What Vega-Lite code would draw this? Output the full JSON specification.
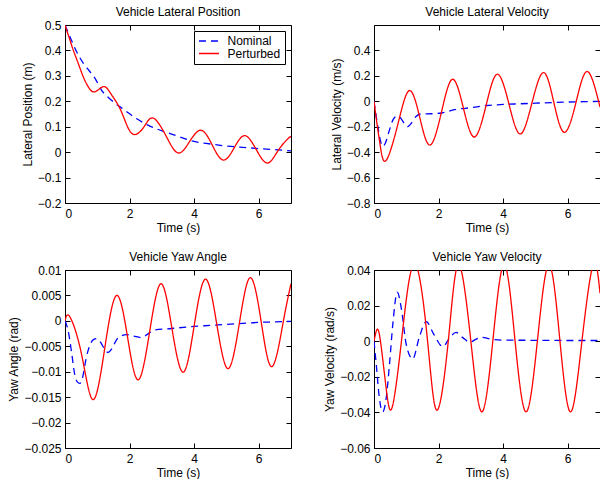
{
  "$schema": "https://vega.github.io/schema/vega-lite/v6.json",
  "padding": {"left": 7, "top": 5, "right": 0, "bottom": 0},
  "background": "white",
  "datasets": {
    "p1n": [
      {"t": 0, "v": 0.5, "s": "Nominal"}, {"t": 0.15, "v": 0.455, "s": "Nominal"}, {"t": 0.36, "v": 0.395, "s": "Nominal"},
      {"t": 0.57, "v": 0.349, "s": "Nominal"}, {"t": 0.75, "v": 0.32, "s": "Nominal"}, {"t": 0.93, "v": 0.29, "s": "Nominal"},
      {"t": 1.13, "v": 0.244, "s": "Nominal"}, {"t": 1.44, "v": 0.204, "s": "Nominal"}, {"t": 1.85, "v": 0.165, "s": "Nominal"},
      {"t": 2.21, "v": 0.132, "s": "Nominal"}, {"t": 2.57, "v": 0.106, "s": "Nominal"}, {"t": 3.09, "v": 0.08, "s": "Nominal"},
      {"t": 3.4, "v": 0.067, "s": "Nominal"}, {"t": 4, "v": 0.042, "s": "Nominal"}, {"t": 4.5, "v": 0.032, "s": "Nominal"},
      {"t": 5, "v": 0.024, "s": "Nominal"}, {"t": 5.5, "v": 0.019, "s": "Nominal"}, {"t": 6, "v": 0.014, "s": "Nominal"},
      {"t": 6.5, "v": 0.01, "s": "Nominal"}, {"t": 7, "v": 0.005, "s": "Nominal"}
    ],
    "p1p": [
      {"t": 0, "v": 0.5, "s": "Perturbed"}, {"t": 0.05, "v": 0.48, "s": "Perturbed"}, {"t": 0.155, "v": 0.44, "s": "Perturbed"},
      {"t": 0.257, "v": 0.401, "s": "Perturbed"}, {"t": 0.41, "v": 0.349, "s": "Perturbed"}, {"t": 0.566, "v": 0.296, "s": "Perturbed"},
      {"t": 0.72, "v": 0.257, "s": "Perturbed"}, {"t": 0.875, "v": 0.237, "s": "Perturbed"}, {"t": 1.05, "v": 0.247, "s": "Perturbed"},
      {"t": 1.24, "v": 0.257, "s": "Perturbed"}, {"t": 1.44, "v": 0.226, "s": "Perturbed"}, {"t": 1.7, "v": 0.172, "s": "Perturbed"},
      {"t": 1.93, "v": 0.102, "s": "Perturbed"}, {"t": 2.16, "v": 0.069, "s": "Perturbed"}, {"t": 2.45, "v": 0.1, "s": "Perturbed"},
      {"t": 2.73, "v": 0.134, "s": "Perturbed"}, {"t": 3.12, "v": 0.066, "s": "Perturbed"}, {"t": 3.5, "v": -0.003, "s": "Perturbed"},
      {"t": 3.86, "v": 0.042, "s": "Perturbed"}, {"t": 4.22, "v": 0.086, "s": "Perturbed"}, {"t": 4.56, "v": 0.028, "s": "Perturbed"},
      {"t": 4.9, "v": -0.031, "s": "Perturbed"}, {"t": 5.24, "v": 0.017, "s": "Perturbed"}, {"t": 5.57, "v": 0.065, "s": "Perturbed"},
      {"t": 5.92, "v": 0.011, "s": "Perturbed"}, {"t": 6.27, "v": -0.043, "s": "Perturbed"}, {"t": 6.61, "v": 0.008, "s": "Perturbed"},
      {"t": 6.95, "v": 0.058, "s": "Perturbed"}, {"t": 7, "v": 0.057, "s": "Perturbed"}
    ],
    "p2n": [
      {"t": 0, "v": 0, "s": "Nominal"}, {"t": 0.1, "v": -0.17, "s": "Nominal"}, {"t": 0.2, "v": -0.31, "s": "Nominal"},
      {"t": 0.27, "v": -0.355, "s": "Nominal"}, {"t": 0.35, "v": -0.33, "s": "Nominal"}, {"t": 0.45, "v": -0.25, "s": "Nominal"},
      {"t": 0.6, "v": -0.14, "s": "Nominal"}, {"t": 0.72, "v": -0.115, "s": "Nominal"}, {"t": 0.85, "v": -0.14, "s": "Nominal"},
      {"t": 0.95, "v": -0.18, "s": "Nominal"}, {"t": 1.04, "v": -0.2, "s": "Nominal"}, {"t": 1.15, "v": -0.175, "s": "Nominal"},
      {"t": 1.3, "v": -0.12, "s": "Nominal"}, {"t": 1.45, "v": -0.1, "s": "Nominal"}, {"t": 1.8, "v": -0.098, "s": "Nominal"},
      {"t": 2.1, "v": -0.092, "s": "Nominal"}, {"t": 2.5, "v": -0.066, "s": "Nominal"}, {"t": 3, "v": -0.05, "s": "Nominal"},
      {"t": 3.5, "v": -0.033, "s": "Nominal"}, {"t": 4, "v": -0.025, "s": "Nominal"}, {"t": 4.5, "v": -0.02, "s": "Nominal"},
      {"t": 5, "v": -0.015, "s": "Nominal"}, {"t": 5.5, "v": -0.01, "s": "Nominal"}, {"t": 6, "v": -0.006, "s": "Nominal"},
      {"t": 6.5, "v": -0.003, "s": "Nominal"}, {"t": 7, "v": -0.001, "s": "Nominal"}
    ],
    "p2p": [
      {"t": 0, "v": 0, "s": "Perturbed"}, {"t": 0.1, "v": -0.19, "s": "Perturbed"}, {"t": 0.2, "v": -0.36, "s": "Perturbed"},
      {"t": 0.37, "v": -0.467, "s": "Perturbed"}, {"t": 0.73, "v": -0.19, "s": "Perturbed"}, {"t": 1.09, "v": 0.084, "s": "Perturbed"},
      {"t": 1.42, "v": -0.13, "s": "Perturbed"}, {"t": 1.74, "v": -0.344, "s": "Perturbed"}, {"t": 2.09, "v": -0.085, "s": "Perturbed"},
      {"t": 2.43, "v": 0.173, "s": "Perturbed"}, {"t": 2.77, "v": -0.054, "s": "Perturbed"}, {"t": 3.11, "v": -0.281, "s": "Perturbed"},
      {"t": 3.47, "v": -0.034, "s": "Perturbed"}, {"t": 3.82, "v": 0.213, "s": "Perturbed"}, {"t": 4.18, "v": -0.022, "s": "Perturbed"},
      {"t": 4.53, "v": -0.257, "s": "Perturbed"}, {"t": 4.89, "v": -0.015, "s": "Perturbed"}, {"t": 5.25, "v": 0.226, "s": "Perturbed"},
      {"t": 5.57, "v": -0.009, "s": "Perturbed"}, {"t": 5.9, "v": -0.244, "s": "Perturbed"}, {"t": 6.26, "v": -0.005, "s": "Perturbed"},
      {"t": 6.61, "v": 0.234, "s": "Perturbed"}, {"t": 7, "v": -0.045, "s": "Perturbed"}
    ],
    "p3n": [
      {"t": 0, "v": 0, "s": "Nominal"}, {"t": 0.1, "v": -0.002, "s": "Nominal"}, {"t": 0.2, "v": -0.006, "s": "Nominal"},
      {"t": 0.3, "v": -0.0105, "s": "Nominal"}, {"t": 0.38, "v": -0.012, "s": "Nominal"}, {"t": 0.46, "v": -0.0123, "s": "Nominal"},
      {"t": 0.55, "v": -0.011, "s": "Nominal"}, {"t": 0.65, "v": -0.0075, "s": "Nominal"}, {"t": 0.77, "v": -0.0048, "s": "Nominal"},
      {"t": 0.88, "v": -0.0037, "s": "Nominal"}, {"t": 0.98, "v": -0.0035, "s": "Nominal"}, {"t": 1.1, "v": -0.0042, "s": "Nominal"},
      {"t": 1.22, "v": -0.0055, "s": "Nominal"}, {"t": 1.34, "v": -0.0062, "s": "Nominal"}, {"t": 1.45, "v": -0.0055, "s": "Nominal"},
      {"t": 1.62, "v": -0.0035, "s": "Nominal"}, {"t": 1.9, "v": -0.0027, "s": "Nominal"}, {"t": 2.13, "v": -0.003, "s": "Nominal"},
      {"t": 2.37, "v": -0.0033, "s": "Nominal"}, {"t": 2.58, "v": -0.0025, "s": "Nominal"}, {"t": 2.78, "v": -0.0018, "s": "Nominal"},
      {"t": 3.3, "v": -0.0015, "s": "Nominal"}, {"t": 4, "v": -0.0011, "s": "Nominal"}, {"t": 4.5, "v": -0.0009, "s": "Nominal"},
      {"t": 5, "v": -0.0007, "s": "Nominal"}, {"t": 5.5, "v": -0.0005, "s": "Nominal"}, {"t": 6, "v": -0.0003, "s": "Nominal"},
      {"t": 6.5, "v": -0.0002, "s": "Nominal"}, {"t": 7, "v": -0.0001, "s": "Nominal"}
    ],
    "p3p": [
      {"t": 0, "v": 0, "s": "Perturbed"}, {"t": 0.15, "v": 0.0008, "s": "Perturbed"}, {"t": 0.51, "v": -0.0065, "s": "Perturbed"},
      {"t": 0.875, "v": -0.0155, "s": "Perturbed"}, {"t": 1.24, "v": -0.005, "s": "Perturbed"}, {"t": 1.6, "v": 0.005, "s": "Perturbed"},
      {"t": 1.94, "v": -0.0033, "s": "Perturbed"}, {"t": 2.27, "v": -0.0116, "s": "Perturbed"}, {"t": 2.62, "v": -0.0022, "s": "Perturbed"},
      {"t": 2.97, "v": 0.0073, "s": "Perturbed"}, {"t": 3.31, "v": -0.0014, "s": "Perturbed"}, {"t": 3.66, "v": -0.0101, "s": "Perturbed"},
      {"t": 4, "v": -0.001, "s": "Perturbed"}, {"t": 4.35, "v": 0.0082, "s": "Perturbed"}, {"t": 4.7, "v": -0.0006, "s": "Perturbed"},
      {"t": 5.05, "v": -0.0094, "s": "Perturbed"}, {"t": 5.4, "v": -0.0005, "s": "Perturbed"}, {"t": 5.74, "v": 0.0085, "s": "Perturbed"},
      {"t": 6.08, "v": -0.0003, "s": "Perturbed"}, {"t": 6.41, "v": -0.009, "s": "Perturbed"}, {"t": 6.76, "v": -0.0002, "s": "Perturbed"},
      {"t": 7, "v": 0.0073, "s": "Perturbed"}
    ],
    "p4n": [
      {"t": 0, "v": 0, "s": "Nominal"}, {"t": 0.08, "v": -0.015, "s": "Nominal"}, {"t": 0.16, "v": -0.031, "s": "Nominal"},
      {"t": 0.27, "v": -0.0397, "s": "Nominal"}, {"t": 0.37, "v": -0.033, "s": "Nominal"}, {"t": 0.48, "v": -0.013, "s": "Nominal"},
      {"t": 0.58, "v": 0.009, "s": "Nominal"}, {"t": 0.72, "v": 0.0275, "s": "Nominal"}, {"t": 0.85, "v": 0.018, "s": "Nominal"},
      {"t": 1, "v": -0.002, "s": "Nominal"}, {"t": 1.2, "v": -0.01, "s": "Nominal"}, {"t": 1.4, "v": 0.002, "s": "Nominal"},
      {"t": 1.62, "v": 0.011, "s": "Nominal"}, {"t": 1.85, "v": 0.004, "s": "Nominal"}, {"t": 2.13, "v": -0.003, "s": "Nominal"},
      {"t": 2.35, "v": 0.002, "s": "Nominal"}, {"t": 2.54, "v": 0.005, "s": "Nominal"}, {"t": 2.75, "v": 0.002, "s": "Nominal"},
      {"t": 2.97, "v": -0.0006, "s": "Nominal"}, {"t": 3.15, "v": 0.001, "s": "Nominal"}, {"t": 3.33, "v": 0.0022, "s": "Nominal"},
      {"t": 3.6, "v": 0.0012, "s": "Nominal"}, {"t": 4, "v": 0.0006, "s": "Nominal"}, {"t": 5, "v": 0.0005, "s": "Nominal"},
      {"t": 6, "v": 0.0004, "s": "Nominal"}, {"t": 7, "v": 0.0004, "s": "Nominal"}
    ],
    "p4p": [
      {"t": 0, "v": 0, "s": "Perturbed"}, {"t": 0.09, "v": 0.0065, "s": "Perturbed"}, {"t": 0.2, "v": 0, "s": "Perturbed"},
      {"t": 0.38, "v": -0.027, "s": "Perturbed"}, {"t": 0.56, "v": -0.0373, "s": "Perturbed"}, {"t": 0.85, "v": 0, "s": "Perturbed"},
      {"t": 1.25, "v": 0.0435, "s": "Perturbed"}, {"t": 1.66, "v": 0, "s": "Perturbed"}, {"t": 1.95, "v": -0.0388, "s": "Perturbed"},
      {"t": 2.3, "v": 0, "s": "Perturbed"}, {"t": 2.62, "v": 0.043, "s": "Perturbed"}, {"t": 3, "v": 0, "s": "Perturbed"},
      {"t": 3.34, "v": -0.0397, "s": "Perturbed"}, {"t": 3.68, "v": 0, "s": "Perturbed"}, {"t": 4.03, "v": 0.043, "s": "Perturbed"},
      {"t": 4.37, "v": 0, "s": "Perturbed"}, {"t": 4.71, "v": -0.0397, "s": "Perturbed"}, {"t": 5.06, "v": 0, "s": "Perturbed"},
      {"t": 5.42, "v": 0.043, "s": "Perturbed"}, {"t": 5.76, "v": 0, "s": "Perturbed"}, {"t": 6.09, "v": -0.0397, "s": "Perturbed"},
      {"t": 6.44, "v": 0, "s": "Perturbed"}, {"t": 6.79, "v": 0.043, "s": "Perturbed"}, {"t": 7, "v": 0.027, "s": "Perturbed"}
    ]
  },
  "columns": 2,
  "spacing": {"row": 67, "column": 83},
  "bounds": "flush",
  "resolve": {"legend": {"color": "independent", "strokeDash": "independent"}},
  "concat": [
    {
      "width": 226, "height": 178,
      "title": {"text": "Vehicle Lateral Position", "offset": 0},
      "layer": [
        {
          "data": {"name": "p1n"},
          "mark": {"type": "line", "interpolate": "monotone", "clip": true, "strokeWidth": 1.3},
          "encoding": {
            "x": {"field": "t", "type": "quantitative", "scale": {"domain": [0, 7], "nice": false, "zero": false}, "axis": {"orient": "bottom", "values": [0, 2, 4, 6], "title": "Time (s)", "format": "~g"}},
            "y": {"field": "v", "type": "quantitative", "scale": {"domain": [-0.2, 0.5], "nice": false, "zero": false}, "axis": {"orient": "left", "values": [-0.2, -0.1, 0, 0.1, 0.2, 0.3, 0.4, 0.5], "title": "Lateral Position (m)", "format": "~g"}},
            "color": {"field": "s", "type": "nominal", "scale": {"domain": ["Nominal", "Perturbed"], "range": ["#0000ff", "#ff0000"]}, "legend": {"title": null}},
            "strokeDash": {"field": "s", "type": "nominal", "scale": {"domain": ["Nominal", "Perturbed"], "range": [[7, 5], [1, 0]]}, "legend": {"title": null}}
          }
        },
        {
          "data": {"name": "p1p"},
          "mark": {"type": "line", "interpolate": "natural", "clip": true, "strokeWidth": 1.3},
          "encoding": {
            "x": {"field": "t", "type": "quantitative", "scale": {"domain": [0, 7], "nice": false, "zero": false}, "axis": null},
            "y": {"field": "v", "type": "quantitative", "scale": {"domain": [-0.2, 0.5], "nice": false, "zero": false}, "axis": null},
            "color": {"field": "s", "type": "nominal", "scale": {"domain": ["Nominal", "Perturbed"], "range": ["#0000ff", "#ff0000"]}, "legend": {"title": null}},
            "strokeDash": {"field": "s", "type": "nominal", "scale": {"domain": ["Nominal", "Perturbed"], "range": [[7, 5], [1, 0]]}, "legend": {"title": null}}
          }
        },
        {
          "data": {"name": "p1n"},
          "mark": {"type": "line", "opacity": 0},
          "encoding": {
            "x": {"field": "t", "type": "quantitative", "scale": {"domain": [0, 7], "nice": false, "zero": false}, "axis": {"orient": "top", "values": [0, 2, 4, 6], "labels": false, "title": null}},
            "y": {"field": "v", "type": "quantitative", "scale": {"domain": [-0.2, 0.5], "nice": false, "zero": false}, "axis": {"orient": "right", "values": [-0.2, -0.1, 0, 0.1, 0.2, 0.3, 0.4, 0.5], "labels": false, "title": null}}
          }
        }
      ],
      "resolve": {"axis": {"x": "independent", "y": "independent"}}
    },
    {
      "width": 226, "height": 178,
      "title": {"text": "Vehicle Lateral Velocity", "offset": 6},
      "layer": [
        {
          "data": {"name": "p2n"},
          "mark": {"type": "line", "interpolate": "monotone", "clip": true, "strokeWidth": 1.3},
          "encoding": {
            "x": {"field": "t", "type": "quantitative", "scale": {"domain": [0, 7], "nice": false, "zero": false}, "axis": {"orient": "bottom", "values": [0, 2, 4, 6], "title": "Time (s)", "format": "~g"}},
            "y": {"field": "v", "type": "quantitative", "scale": {"domain": [-0.8, 0.6], "nice": false, "zero": false}, "axis": {"orient": "left", "values": [-0.8, -0.6, -0.4, -0.2, 0, 0.2, 0.4], "title": "Lateral Velocity (m/s)", "format": "~g"}},
            "color": {"field": "s", "type": "nominal", "scale": {"domain": ["Nominal", "Perturbed"], "range": ["#0000ff", "#ff0000"]}, "legend": null},
            "strokeDash": {"field": "s", "type": "nominal", "scale": {"domain": ["Nominal", "Perturbed"], "range": [[7, 5], [1, 0]]}, "legend": null}
          }
        },
        {
          "data": {"name": "p2p"},
          "mark": {"type": "line", "interpolate": "natural", "clip": true, "strokeWidth": 1.3},
          "encoding": {
            "x": {"field": "t", "type": "quantitative", "scale": {"domain": [0, 7], "nice": false, "zero": false}, "axis": null},
            "y": {"field": "v", "type": "quantitative", "scale": {"domain": [-0.8, 0.6], "nice": false, "zero": false}, "axis": null},
            "color": {"field": "s", "type": "nominal", "scale": {"domain": ["Nominal", "Perturbed"], "range": ["#0000ff", "#ff0000"]}, "legend": null},
            "strokeDash": {"field": "s", "type": "nominal", "scale": {"domain": ["Nominal", "Perturbed"], "range": [[7, 5], [1, 0]]}, "legend": null}
          }
        },
        {
          "data": {"name": "p2n"},
          "mark": {"type": "line", "opacity": 0},
          "encoding": {
            "x": {"field": "t", "type": "quantitative", "scale": {"domain": [0, 7], "nice": false, "zero": false}, "axis": {"orient": "top", "values": [0, 2, 4, 6], "labels": false, "title": null}},
            "y": {"field": "v", "type": "quantitative", "scale": {"domain": [-0.8, 0.6], "nice": false, "zero": false}, "axis": {"orient": "right", "values": [-0.8, -0.6, -0.4, -0.2, 0, 0.2, 0.4], "labels": false, "title": null}}
          }
        }
      ],
      "resolve": {"axis": {"x": "independent", "y": "independent"}}
    },
    {
      "width": 226, "height": 178,
      "title": {"text": "Vehicle Yaw Angle", "offset": 0},
      "layer": [
        {
          "data": {"name": "p3n"},
          "mark": {"type": "line", "interpolate": "monotone", "clip": true, "strokeWidth": 1.3},
          "encoding": {
            "x": {"field": "t", "type": "quantitative", "scale": {"domain": [0, 7], "nice": false, "zero": false}, "axis": {"orient": "bottom", "values": [0, 2, 4, 6], "title": "Time (s)", "format": "~g"}},
            "y": {"field": "v", "type": "quantitative", "scale": {"domain": [-0.025, 0.01], "nice": false, "zero": false}, "axis": {"orient": "left", "values": [-0.025, -0.02, -0.015, -0.01, -0.005, 0, 0.005, 0.01], "title": "Yaw Angle (rad)", "format": "~g"}},
            "color": {"field": "s", "type": "nominal", "scale": {"domain": ["Nominal", "Perturbed"], "range": ["#0000ff", "#ff0000"]}, "legend": null},
            "strokeDash": {"field": "s", "type": "nominal", "scale": {"domain": ["Nominal", "Perturbed"], "range": [[7, 5], [1, 0]]}, "legend": null}
          }
        },
        {
          "data": {"name": "p3p"},
          "mark": {"type": "line", "interpolate": "natural", "clip": true, "strokeWidth": 1.3},
          "encoding": {
            "x": {"field": "t", "type": "quantitative", "scale": {"domain": [0, 7], "nice": false, "zero": false}, "axis": null},
            "y": {"field": "v", "type": "quantitative", "scale": {"domain": [-0.025, 0.01], "nice": false, "zero": false}, "axis": null},
            "color": {"field": "s", "type": "nominal", "scale": {"domain": ["Nominal", "Perturbed"], "range": ["#0000ff", "#ff0000"]}, "legend": null},
            "strokeDash": {"field": "s", "type": "nominal", "scale": {"domain": ["Nominal", "Perturbed"], "range": [[7, 5], [1, 0]]}, "legend": null}
          }
        },
        {
          "data": {"name": "p3n"},
          "mark": {"type": "line", "opacity": 0},
          "encoding": {
            "x": {"field": "t", "type": "quantitative", "scale": {"domain": [0, 7], "nice": false, "zero": false}, "axis": {"orient": "top", "values": [0, 2, 4, 6], "labels": false, "title": null}},
            "y": {"field": "v", "type": "quantitative", "scale": {"domain": [-0.025, 0.01], "nice": false, "zero": false}, "axis": {"orient": "right", "values": [-0.025, -0.02, -0.015, -0.01, -0.005, 0, 0.005, 0.01], "labels": false, "title": null}}
          }
        }
      ],
      "resolve": {"axis": {"x": "independent", "y": "independent"}}
    },
    {
      "width": 226, "height": 178,
      "title": {"text": "Vehicle Yaw Velocity", "offset": 0},
      "layer": [
        {
          "data": {"name": "p4n"},
          "mark": {"type": "line", "interpolate": "monotone", "clip": true, "strokeWidth": 1.3},
          "encoding": {
            "x": {"field": "t", "type": "quantitative", "scale": {"domain": [0, 7], "nice": false, "zero": false}, "axis": {"orient": "bottom", "values": [0, 2, 4, 6], "title": "Time (s)", "format": "~g"}},
            "y": {"field": "v", "type": "quantitative", "scale": {"domain": [-0.06, 0.04], "nice": false, "zero": false}, "axis": {"orient": "left", "values": [-0.06, -0.04, -0.02, 0, 0.02, 0.04], "title": "Yaw Velocity (rad/s)", "format": "~g"}},
            "color": {"field": "s", "type": "nominal", "scale": {"domain": ["Nominal", "Perturbed"], "range": ["#0000ff", "#ff0000"]}, "legend": null},
            "strokeDash": {"field": "s", "type": "nominal", "scale": {"domain": ["Nominal", "Perturbed"], "range": [[7, 5], [1, 0]]}, "legend": null}
          }
        },
        {
          "data": {"name": "p4p"},
          "mark": {"type": "line", "interpolate": "natural", "clip": true, "strokeWidth": 1.3},
          "encoding": {
            "x": {"field": "t", "type": "quantitative", "scale": {"domain": [0, 7], "nice": false, "zero": false}, "axis": null},
            "y": {"field": "v", "type": "quantitative", "scale": {"domain": [-0.06, 0.04], "nice": false, "zero": false}, "axis": null},
            "color": {"field": "s", "type": "nominal", "scale": {"domain": ["Nominal", "Perturbed"], "range": ["#0000ff", "#ff0000"]}, "legend": null},
            "strokeDash": {"field": "s", "type": "nominal", "scale": {"domain": ["Nominal", "Perturbed"], "range": [[7, 5], [1, 0]]}, "legend": null}
          }
        },
        {
          "data": {"name": "p4n"},
          "mark": {"type": "line", "opacity": 0},
          "encoding": {
            "x": {"field": "t", "type": "quantitative", "scale": {"domain": [0, 7], "nice": false, "zero": false}, "axis": {"orient": "top", "values": [0, 2, 4, 6], "labels": false, "title": null}},
            "y": {"field": "v", "type": "quantitative", "scale": {"domain": [-0.06, 0.04], "nice": false, "zero": false}, "axis": {"orient": "right", "values": [-0.06, -0.04, -0.02, 0, 0.02, 0.04], "labels": false, "title": null}}
          }
        }
      ],
      "resolve": {"axis": {"x": "independent", "y": "independent"}}
    }
  ],
  "config": {
    "font": "Liberation Sans",
    "view": {"stroke": "black", "strokeWidth": 1},
    "axis": {
      "domain": false, "grid": false, "tickSize": -5, "tickColor": "black", "tickWidth": 1,
      "labelFont": "Liberation Sans", "labelFontSize": 12, "labelColor": "black",
      "titleFont": "Liberation Sans", "titleFontSize": 12, "titleFontWeight": "normal", "titleColor": "black"
    },
    "axisX": {"labelPadding": 10.5, "titlePadding": 2.5},
    "axisY": {"labelPadding": 9, "titlePadding": 3},
    "title": {"font": "Liberation Sans", "fontSize": 12, "fontWeight": "normal", "color": "black", "anchor": "middle", "frame": "group"},
    "legend": {
      "orient": "top-right", "offset": 6, "symbolType": "M-1,0H3", "symbolSize": 100, "symbolStrokeWidth": 1.3,
      "labelFont": "Liberation Sans", "labelFontSize": 12, "labelColor": "black", "labelOffset": 17.5,
      "strokeColor": "black", "fillColor": "white", "padding": 4, "rowPadding": 0.5
    }
  }
}
